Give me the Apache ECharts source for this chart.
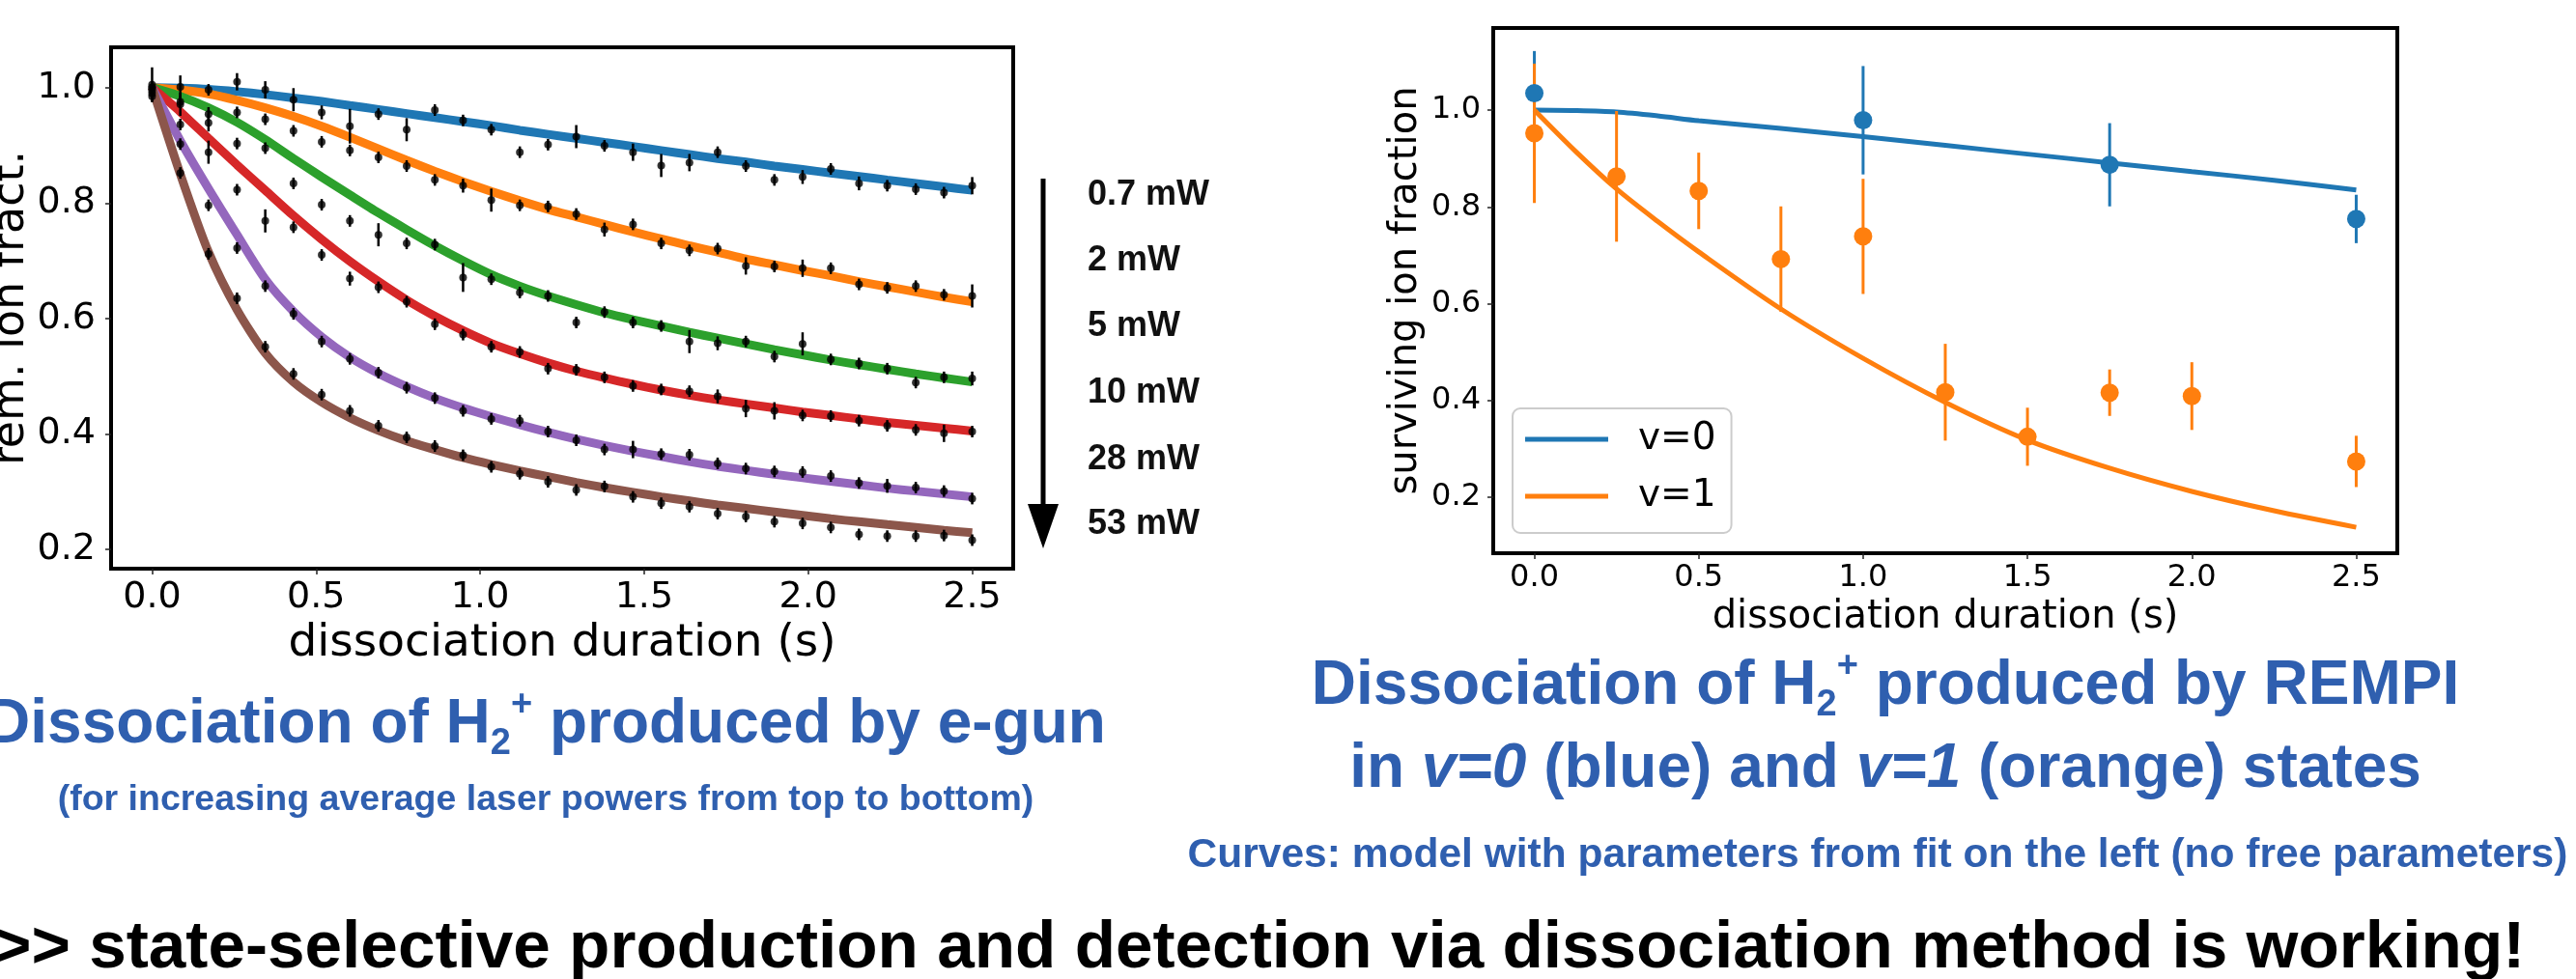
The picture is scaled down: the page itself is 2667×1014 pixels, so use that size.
<!DOCTYPE html>
<html><head><meta charset="utf-8">
<script src="https://cdn.jsdelivr.net/npm/echarts@6/dist/echarts.min.js"></script>
<style>html,body{margin:0;padding:0;background:#fff}#c{width:2667px;height:1014px}</style>
</head><body><div id="c"></div>
<script>
// ---------- Left panel: e-gun data (30 durations) ----------
const durations = [0, 0.086, 0.172, 0.259, 0.345, 0.431, 0.517, 0.603, 0.690, 0.776, 0.862, 0.948, 1.034, 1.121, 1.207, 1.293, 1.379, 1.466, 1.552, 1.638, 1.724, 1.810, 1.897, 1.983, 2.069, 2.155, 2.241, 2.328, 2.414, 2.5];
const powerLabels = ['0.7 mW', '2 mW', '5 mW', '10 mW', '28 mW', '53 mW'];

const data07 = [1.005, 1.001, 0.996, 1.010, 0.996, 0.979, 0.957, 0.933, 0.954, 0.927, 0.961, 0.943, 0.927, 0.888, 0.901, 0.915, 0.899, 0.888, 0.865, 0.870, 0.888, 0.864, 0.840, 0.845, 0.859, 0.834, 0.830, 0.824, 0.818, 0.830];
const data2  = [1.000, 0.975, 0.954, 0.957, 0.945, 0.925, 0.906, 0.891, 0.879, 0.864, 0.840, 0.830, 0.805, 0.796, 0.794, 0.781, 0.754, 0.763, 0.730, 0.718, 0.721, 0.691, 0.690, 0.687, 0.687, 0.659, 0.653, 0.656, 0.641, 0.639];
const data5  = [1.000, 0.971, 0.939, 0.903, 0.895, 0.834, 0.797, 0.769, 0.745, 0.730, 0.728, 0.671, 0.668, 0.645, 0.639, 0.593, 0.611, 0.593, 0.587, 0.560, 0.557, 0.560, 0.534, 0.556, 0.529, 0.522, 0.513, 0.489, 0.498, 0.496];
const data10 = [0.995, 0.936, 0.888, 0.823, 0.769, 0.758, 0.710, 0.669, 0.654, 0.629, 0.590, 0.572, 0.551, 0.542, 0.513, 0.511, 0.498, 0.483, 0.477, 0.474, 0.465, 0.444, 0.440, 0.432, 0.431, 0.423, 0.414, 0.407, 0.401, 0.404];
const data28 = [0.990, 0.902, 0.796, 0.722, 0.656, 0.608, 0.560, 0.530, 0.506, 0.480, 0.462, 0.440, 0.426, 0.423, 0.404, 0.389, 0.373, 0.373, 0.365, 0.364, 0.349, 0.340, 0.335, 0.334, 0.327, 0.315, 0.310, 0.307, 0.301, 0.288];
const data53 = [0.985, 0.852, 0.712, 0.635, 0.551, 0.504, 0.468, 0.440, 0.414, 0.394, 0.379, 0.363, 0.343, 0.331, 0.317, 0.303, 0.309, 0.291, 0.280, 0.274, 0.262, 0.257, 0.248, 0.245, 0.238, 0.226, 0.223, 0.223, 0.224, 0.216];

const err07 = [0.030, 0.020, 0.010, 0.015, 0.015, 0.020, 0.012, 0.030, 0.010, 0.020, 0.010, 0.010, 0.010, 0.010, 0.010, 0.020, 0.010, 0.015, 0.020, 0.015, 0.010, 0.010, 0.010, 0.012, 0.010, 0.012, 0.010, 0.010, 0.010, 0.015];
const err2  = [0.010, 0.010, 0.012, 0.010, 0.010, 0.010, 0.010, 0.010, 0.010, 0.010, 0.010, 0.012, 0.020, 0.010, 0.010, 0.010, 0.012, 0.010, 0.010, 0.010, 0.010, 0.015, 0.010, 0.015, 0.010, 0.010, 0.010, 0.010, 0.010, 0.020];
const err5  = [0.010, 0.020, 0.015, 0.010, 0.010, 0.010, 0.010, 0.010, 0.020, 0.010, 0.010, 0.025, 0.010, 0.010, 0.010, 0.010, 0.010, 0.010, 0.010, 0.020, 0.012, 0.010, 0.010, 0.020, 0.010, 0.010, 0.010, 0.010, 0.010, 0.012];
const err10 = [0.010, 0.010, 0.020, 0.010, 0.020, 0.010, 0.010, 0.012, 0.010, 0.010, 0.010, 0.010, 0.010, 0.010, 0.010, 0.010, 0.010, 0.010, 0.010, 0.010, 0.012, 0.015, 0.015, 0.010, 0.010, 0.010, 0.010, 0.010, 0.015, 0.010];
const err28 = [0.010, 0.010, 0.010, 0.010, 0.010, 0.010, 0.010, 0.010, 0.010, 0.010, 0.010, 0.010, 0.010, 0.010, 0.010, 0.010, 0.010, 0.015, 0.010, 0.010, 0.010, 0.010, 0.010, 0.010, 0.010, 0.010, 0.012, 0.010, 0.010, 0.010];
const err53 = [0.010, 0.010, 0.010, 0.010, 0.010, 0.010, 0.010, 0.010, 0.010, 0.010, 0.010, 0.010, 0.010, 0.010, 0.010, 0.010, 0.010, 0.010, 0.010, 0.010, 0.010, 0.010, 0.010, 0.010, 0.010, 0.010, 0.010, 0.010, 0.010, 0.010];

const fit07 = [1.000, 0.999, 0.997, 0.993, 0.988, 0.982, 0.976, 0.969, 0.962, 0.955, 0.948, 0.941, 0.934, 0.926, 0.919, 0.912, 0.905, 0.898, 0.891, 0.884, 0.877, 0.871, 0.864, 0.858, 0.852, 0.846, 0.840, 0.834, 0.828, 0.822];
const fit2  = [1.000, 0.996, 0.989, 0.978, 0.965, 0.950, 0.933, 0.914, 0.894, 0.874, 0.855, 0.837, 0.820, 0.804, 0.789, 0.776, 0.763, 0.750, 0.738, 0.726, 0.715, 0.703, 0.693, 0.683, 0.674, 0.664, 0.655, 0.646, 0.637, 0.629];
const fit5  = [1.000, 0.985, 0.965, 0.940, 0.910, 0.877, 0.845, 0.814, 0.783, 0.754, 0.726, 0.700, 0.676, 0.656, 0.639, 0.624, 0.610, 0.598, 0.587, 0.576, 0.566, 0.556, 0.546, 0.537, 0.528, 0.520, 0.512, 0.504, 0.497, 0.490];
const fit10 = [1.000, 0.958, 0.912, 0.866, 0.822, 0.778, 0.737, 0.699, 0.664, 0.632, 0.604, 0.579, 0.557, 0.539, 0.523, 0.509, 0.497, 0.486, 0.476, 0.467, 0.459, 0.452, 0.445, 0.438, 0.432, 0.426, 0.420, 0.415, 0.410, 0.405];
const fit28 = [1.000, 0.908, 0.825, 0.745, 0.668, 0.612, 0.568, 0.533, 0.505, 0.482, 0.462, 0.445, 0.430, 0.416, 0.403, 0.391, 0.380, 0.370, 0.361, 0.352, 0.344, 0.337, 0.330, 0.324, 0.318, 0.312, 0.306, 0.301, 0.296, 0.291];
const fit53 = [1.000, 0.850, 0.715, 0.615, 0.540, 0.490, 0.455, 0.428, 0.406, 0.388, 0.373, 0.359, 0.347, 0.336, 0.326, 0.316, 0.307, 0.299, 0.291, 0.284, 0.277, 0.271, 0.265, 0.259, 0.253, 0.248, 0.243, 0.238, 0.233, 0.229];

// ---------- Right panel: REMPI data ----------
const v0Dur = [0, 1.0, 1.75, 2.5];
const v0Val = [1.035, 0.979, 0.887, 0.775];
const v0Err = [0.087, 0.112, 0.086, 0.050];
const v1Dur = [0, 0.25, 0.5, 0.75, 1.0, 1.25, 1.5, 1.75, 2.0, 2.5];
const v1Val = [0.952, 0.863, 0.833, 0.692, 0.739, 0.417, 0.325, 0.416, 0.409, 0.274];
const v1Err = [0.144, 0.135, 0.079, 0.109, 0.119, 0.100, 0.060, 0.048, 0.070, 0.053];
const modelDur = [0, 0.125, 0.25, 0.375, 0.5, 0.75, 1.0, 1.25, 1.5, 1.75, 2.0, 2.25, 2.5];
const modelV0 = [1.000, 0.999, 0.996, 0.988, 0.978, 0.962, 0.945, 0.927, 0.909, 0.891, 0.873, 0.855, 0.835];
const modelV1 = [1.000, 0.915, 0.837, 0.770, 0.707, 0.589, 0.487, 0.396, 0.318, 0.260, 0.212, 0.172, 0.138];

const xTicks = [0, 0.5, 1.0, 1.5, 2.0, 2.5];
const yTicks = [0.2, 0.4, 0.6, 0.8, 1.0];

const C = ['#1f77b4', '#ff7f0e', '#2ca02c', '#d62728', '#9467bd', '#8c564b'];
const TITLE_BLUE = '#2f5faf';
const MPL = 'DejaVu Sans';
const SLIDE = 'Liberation Sans';

function pairs(xs, ys) { return xs.map((x, i) => [x, ys[i]]); }

function errSeries(xs, ys, es, color, width, idx, z) {
  return {
    type: 'custom', xAxisIndex: idx, yAxisIndex: idx, silent: true, z: z,
    data: xs.map((x, i) => [x, ys[i] - es[i], ys[i] + es[i]]),
    encode: { x: 0, y: [1, 2] },
    renderItem: function (params, api) {
      const lo = api.coord([api.value(0), api.value(1)]);
      const hi = api.coord([api.value(0), api.value(2)]);
      return { type: 'line', shape: { x1: lo[0], y1: lo[1], x2: hi[0], y2: hi[1] },
               style: { stroke: color, lineWidth: width } };
    }
  };
}

function xAxisCfg(idx, fs, nameFs, gap, margin) {
  return {
    type: 'value', gridIndex: idx, min: -0.125, max: 2.625,
    name: 'dissociation duration (s)', nameLocation: 'middle', nameGap: gap,
    nameTextStyle: { fontFamily: MPL, fontSize: nameFs, color: '#000' },
    axisLine: { show: false, onZero: false }, splitLine: { show: false },
    axisTick: { show: true, customValues: xTicks, length: 6, lineStyle: { color: '#222', width: 1.5 } },
    axisLabel: { customValues: xTicks, formatter: v => v.toFixed(1), fontFamily: MPL, fontSize: fs, color: '#000', margin: margin }
  };
}
function yAxisCfg(idx, min, max, name, fs, nameFs, gap, margin) {
  return {
    type: 'value', gridIndex: idx, min: min, max: max,
    name: name, nameLocation: 'middle', nameGap: gap, nameRotate: 90,
    nameTextStyle: { fontFamily: MPL, fontSize: nameFs, color: '#000' },
    axisLine: { show: false, onZero: false }, splitLine: { show: false },
    axisTick: { show: true, customValues: yTicks, length: 6, lineStyle: { color: '#222', width: 1.5 } },
    axisLabel: { customValues: yTicks, formatter: v => v.toFixed(1), fontFamily: MPL, fontSize: fs, color: '#000', margin: margin }
  };
}

const fits = [fit07, fit2, fit5, fit10, fit28, fit53];
const datas = [data07, data2, data5, data10, data28, data53];
const errs = [err07, err2, err5, err10, err28, err53];

const series = [];
fits.forEach((f, k) => {
  series.push({ type: 'line', name: powerLabels[k] + ' fit', xAxisIndex: 0, yAxisIndex: 0, data: pairs(durations, f),
    symbol: 'none', smooth: 0.25, lineStyle: { color: C[k], width: 9 }, z: 2, silent: true });
});
datas.forEach((d, k) => {
  series.push(errSeries(durations, d, errs[k], '#000', 2.5, 0, 4));
  series.push({ type: 'scatter', name: powerLabels[k] + ' data', xAxisIndex: 0, yAxisIndex: 0, data: pairs(durations, d),
    symbol: 'circle', symbolSize: 8, itemStyle: { color: '#000' }, z: 5, silent: true });
});
// right panel
series.push({ type: 'line', name: 'v=0', xAxisIndex: 1, yAxisIndex: 1, data: pairs(modelDur, modelV0), symbol: 'none', smooth: 0.3,
  lineStyle: { color: C[0], width: 5 }, itemStyle: { color: C[0] }, z: 2 });
series.push({ type: 'line', name: 'v=1', xAxisIndex: 1, yAxisIndex: 1, data: pairs(modelDur, modelV1), symbol: 'none', smooth: 0.3,
  lineStyle: { color: C[1], width: 5 }, itemStyle: { color: C[1] }, z: 2 });
series.push(errSeries(v0Dur, v0Val, v0Err, C[0], 3, 1, 4));
series.push(errSeries(v1Dur, v1Val, v1Err, C[1], 3, 1, 4));
series.push({ type: 'scatter', name: 'v=0 data', xAxisIndex: 1, yAxisIndex: 1, data: pairs(v0Dur, v0Val), symbolSize: 19,
  itemStyle: { color: C[0], opacity: 1 }, z: 5 });
series.push({ type: 'scatter', name: 'v=1 data', xAxisIndex: 1, yAxisIndex: 1, data: pairs(v1Dur, v1Val), symbolSize: 19,
  itemStyle: { color: C[1], opacity: 1 }, z: 5 });

function txt(x, y, text, size, opts) {
  opts = opts || {};
  return { type: 'text', x: x, y: y, z: 100, rotation: opts.rotation || 0,
    style: { text: text, fontSize: size, fontFamily: opts.family || SLIDE, fontWeight: opts.weight || 'bold',
      fill: opts.color || '#000', align: opts.align || 'center', verticalAlign: 'middle',
      textAlign: opts.align || 'center', textVerticalAlign: 'middle', lineHeight: opts.lineHeight, rich: opts.rich } };
}
const subSup = (size, color) => ({
  sub: { fontSize: size, fontFamily: SLIDE, fontWeight: 'bold', fill: color, lineHeight: size, verticalAlign: 'bottom' },
  sup: { fontSize: size, fontFamily: SLIDE, fontWeight: 'bold', fill: color, lineHeight: size, verticalAlign: 'top' },
  it: { fontSize: 64, fontFamily: SLIDE, fontWeight: 'bold', fontStyle: 'italic', fill: color }
});

const graphics = [
  // arrow
  { type: 'line', shape: { x1: 1080, y1: 185, x2: 1080, y2: 530 }, style: { stroke: '#000', lineWidth: 5 } },
  { type: 'polygon', shape: { points: [[1064, 522], [1096, 522], [1080, 568]] }, style: { fill: '#000' } },
];
const labelYs = [202, 270, 338, 407, 476, 543];
powerLabels.forEach((p, i) => graphics.push(txt(1126, labelYs[i], p, 36, { align: 'left', color: '#111' })));
graphics.push(txt(565, 751, 'Dissociation of H{sub|2}{sup|+} produced by e-gun', 64, { color: TITLE_BLUE, lineHeight: 78, rich: subSup(38, TITLE_BLUE) }));
graphics.push(txt(565, 829, '(for increasing average laser powers from top to bottom)', 37.5, { color: TITLE_BLUE }));
graphics.push(txt(1952, 711, 'Dissociation of H{sub|2}{sup|+} produced by REMPI', 64, { color: TITLE_BLUE, lineHeight: 78, rich: subSup(38, TITLE_BLUE) }));
graphics.push(txt(1952, 797, 'in {it|v=0} (blue) and {it|v=1} (orange) states', 64, { color: TITLE_BLUE, rich: subSup(38, TITLE_BLUE) }));
graphics.push(txt(1944, 886, 'Curves: model with parameters from fit on the left (no free parameters)', 42.5, { color: TITLE_BLUE }));
graphics.push(txt(-8, 983, '>> state-selective production and detection via dissociation method is working!', 69.3, { align: 'left', color: '#000' }));

const option = {
  animation: false,
  backgroundColor: '#fff',
  grid: [
    { left: 115, top: 49, width: 934, height: 540, show: true, borderColor: '#000', borderWidth: 4, backgroundColor: 'transparent', containLabel: false, outerBoundsMode: 'none' },
    { left: 1546, top: 29, width: 936, height: 544, show: true, borderColor: '#000', borderWidth: 4, backgroundColor: 'transparent', containLabel: false, outerBoundsMode: 'none' }
  ],
  xAxis: [xAxisCfg(0, 38, 47, 51, 11), xAxisCfg(1, 32, 40, 47, 10)],
  yAxis: [yAxisCfg(0, 0.1666, 1.0697, 'rem. ion fract.', 38, 46, 75, 16),
          yAxisCfg(1, 0.0843, 1.1696, 'surviving ion fraction', 32, 40, 70, 13)],
  legend: {
    data: [{ name: 'v=0', icon: 'rect' }, { name: 'v=1', icon: 'rect' }],
    orient: 'vertical', left: 1566, top: 423, itemWidth: 86, itemHeight: 5, itemGap: 19,
    padding: [12, 16, 18, 13], backgroundColor: '#fff', borderColor: '#ccc', borderWidth: 2, borderRadius: 8,
    textStyle: { fontFamily: MPL, fontSize: 39, color: '#000', lineHeight: 40, padding: [0, 0, 0, 26] }
  },
  series: series,
  graphic: graphics
};
const chart = echarts.init(document.getElementById('c'), null, { renderer: 'canvas' });
chart.setOption(option);
</script></body></html>
